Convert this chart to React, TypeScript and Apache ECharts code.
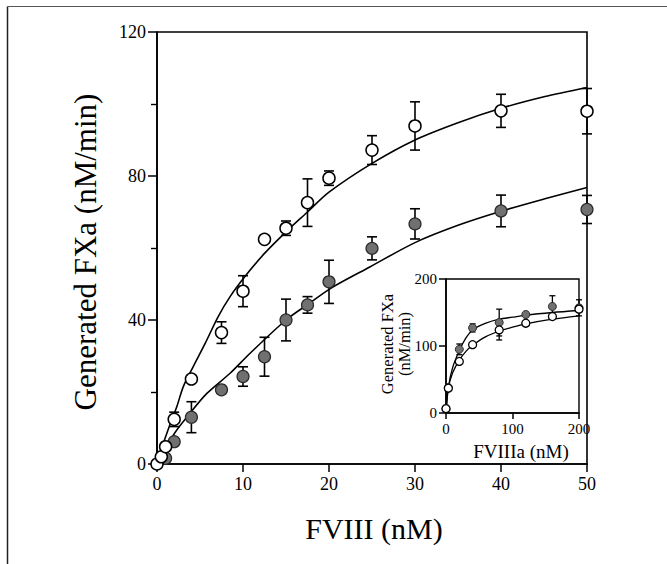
import React, { useEffect, useRef } from "react";
import * as echarts from "echarts";

// ---- Main plot data (FVIII, nM) ----
const openX = [0, 0.5, 1, 2, 4, 7.5, 10, 12.5, 15, 17.5, 20, 25, 30, 40, 50];
const openY = [0, 2, 4.8, 12.4, 23.6, 36.5, 48, 62.4, 65.5, 72.6, 79.4, 87.2, 93.9, 98.1, 98];
const openErr = [0, 0, 0, 2, 0, 3, 4.3, 0, 2, 6.6, 2, 4, 6.7, 4.6, 6.3];

const filledX = [1, 2, 4, 7.5, 10, 12.5, 15, 17.5, 20, 25, 30, 40, 50];
const filledY = [1.6, 6.2, 13, 20.6, 24.3, 29.8, 40, 44.2, 50.6, 59.9, 66.7, 70.3, 70.7];
const filledErr = [0, 0, 4.3, 0, 2.7, 5.4, 5.8, 2.3, 6, 3.2, 4.2, 4.4, 3.9];

const openCurveX = [0, 0.35, 0.93, 1.7, 2.3, 3.06, 4.2, 5.6, 7.1, 8.5, 10.2, 12.5, 15, 17.5, 20, 25, 30, 35, 40, 45, 50];
const openCurveY = [0, 3, 7.1, 12.2, 15.9, 21.5, 27, 33.5, 40.9, 46.5, 52, 58.5, 64.5, 70, 75.5, 83.5, 90, 94.8, 98.8, 102, 104.6];

const filledCurveX = [0, 0.93, 1.9, 3.84, 5.8, 8.5, 10.8, 15, 17.7, 20.2, 24.8, 30, 35, 40, 45, 50];
const filledCurveY = [0, 2, 8, 14.1, 19.6, 25.2, 30.7, 40, 44.6, 48.8, 54.8, 61.5, 66.3, 70.2, 73.6, 76.8];

// ---- Inset data (FVIIIa, nM) ----
const insetOpenX = [0, 3.5, 20, 40, 80, 120, 160, 200];
const insetOpenY = [6.5, 37, 77, 102, 124, 134, 144, 155];
const insetOpenErr = [0, 0, 0, 0, 15, 0, 0, 0];

const insetFilledX = [0, 3.5, 20, 40, 80, 120, 160, 200];
const insetFilledY = [6, 38, 95, 127, 135, 147, 159, 157];
const insetFilledErr = [0, 0, 8, 6, 20, 0, 16, 12];

const insetOpenCurveX = [0, 3.5, 10, 20, 30, 40, 60, 80, 100, 120, 160, 200];
const insetOpenCurveY = [0, 37, 60, 79, 92, 101, 114, 122, 128, 133, 140, 145];
const insetFilledCurveX = [0, 3.5, 10, 20, 30, 40, 60, 80, 100, 120, 160, 200];
const insetFilledCurveY = [0, 38, 68, 93, 112, 124, 134, 140, 143, 146, 150, 153];

const FONT = "'Liberation Serif', 'Times New Roman', serif";

const zip = (xs: number[], ys: number[]) => xs.map((x, i) => [x, ys[i]]);

function errorSeries(
  xs: number[],
  ys: number[],
  errs: number[],
  axisIndex: number,
  cap: number,
  lw: number,
  z: number
) {
  const data = xs
    .map((x, i) => [x, ys[i] - errs[i], ys[i] + errs[i]])
    .filter((_, i) => errs[i] > 0);
  return {
    type: "custom",
    xAxisIndex: axisIndex,
    yAxisIndex: axisIndex,
    data,
    z,
    silent: true,
    encode: { x: 0, y: [1, 2] },
    renderItem: (params: any, api: any) => {
      const x = api.value(0);
      const p1 = api.coord([x, api.value(1)]);
      const p2 = api.coord([x, api.value(2)]);
      const st = { stroke: "#000", lineWidth: lw };
      return {
        type: "group",
        children: [
          { type: "line", shape: { x1: p1[0], y1: p1[1], x2: p2[0], y2: p2[1] }, style: st },
          { type: "line", shape: { x1: p1[0] - cap, y1: p1[1], x2: p1[0] + cap, y2: p1[1] }, style: st },
          { type: "line", shape: { x1: p2[0] - cap, y1: p2[1], x2: p2[0] + cap, y2: p2[1] }, style: st },
        ],
      };
    },
  };
}

function axisCommon(fontSize: number, tickLen: number, margin: number) {
  return {
    type: "value",
    axisLine: { show: true, onZero: false, lineStyle: { color: "#000", width: 1.6 } },
    axisTick: { show: true, inside: false, length: tickLen, lineStyle: { color: "#000", width: 1.5 } },
    axisLabel: {
      show: true,
      color: "#000",
      fontFamily: FONT,
      fontSize,
      margin,
      showMinLabel: true,
      showMaxLabel: true,
      hideOverlap: false,
    },
    splitLine: { show: false },
  };
}

export default function App() {
  const ref = useRef<HTMLDivElement>(null);

  useEffect(() => {
    if (!ref.current) return;
    const chart = echarts.init(ref.current, undefined, { renderer: "svg" });

    const option: any = {
      animation: false,
      backgroundColor: "#fff",
      grid: [
        {
          left: 157, top: 32, width: 430, height: 432,
          show: true, borderColor: "#000", borderWidth: 1.6, backgroundColor: "transparent",
          outerBoundsMode: "none", containLabel: false,
        },
        {
          left: 446, top: 279, width: 133, height: 134,
          show: true, borderColor: "#000", borderWidth: 1.4, backgroundColor: "#fff",
          outerBoundsMode: "none", containLabel: false, z: 5,
        },
      ],
      xAxis: [
        { ...axisCommon(18, 8, 11), gridIndex: 0, min: 0, max: 50, interval: 10 },
        { ...axisCommon(15, 6, 8), gridIndex: 1, min: 0, max: 200, interval: 100, z: 6 },
      ],
      yAxis: [
        {
          ...axisCommon(18, 9, 11), gridIndex: 0, min: 0, max: 120, interval: 40,
          minorTick: { show: true, splitNumber: 2, length: 6, lineStyle: { color: "#000", width: 1.4 } },
        },
        { ...axisCommon(15, 7, 9), gridIndex: 1, min: 0, max: 200, interval: 100, z: 6 },
      ],
      series: [
        // main curves
        {
          type: "line", xAxisIndex: 0, yAxisIndex: 0, data: zip(openCurveX, openCurveY),
          showSymbol: false, smooth: 0.3, lineStyle: { color: "#000", width: 1.6 }, z: 1, silent: true,
        },
        {
          type: "line", xAxisIndex: 0, yAxisIndex: 0, data: zip(filledCurveX, filledCurveY),
          showSymbol: false, smooth: 0.3, lineStyle: { color: "#000", width: 1.6 }, z: 1, silent: true,
        },
        errorSeries(filledX, filledY, filledErr, 0, 5, 1.6, 2),
        errorSeries(openX, openY, openErr, 0, 5, 1.6, 2),
        {
          type: "scatter", xAxisIndex: 0, yAxisIndex: 0, data: zip(filledX, filledY),
          symbol: "circle", symbolSize: 12,
          itemStyle: { color: "#707070", borderColor: "#2a2a2a", borderWidth: 1.2, opacity: 1 },
          z: 3, silent: true,
        },
        {
          type: "scatter", xAxisIndex: 0, yAxisIndex: 0, data: zip(openX, openY),
          symbol: "circle", symbolSize: 12,
          itemStyle: { color: "#fff", borderColor: "#000", borderWidth: 1.5, opacity: 1 },
          z: 4, silent: true,
        },
        // inset
        {
          type: "line", xAxisIndex: 1, yAxisIndex: 1, data: zip(insetOpenCurveX, insetOpenCurveY),
          showSymbol: false, smooth: 0.3, lineStyle: { color: "#000", width: 1.3 }, z: 7, silent: true,
        },
        {
          type: "line", xAxisIndex: 1, yAxisIndex: 1, data: zip(insetFilledCurveX, insetFilledCurveY),
          showSymbol: false, smooth: 0.3, lineStyle: { color: "#000", width: 1.3 }, z: 7, silent: true,
        },
        errorSeries(insetFilledX, insetFilledY, insetFilledErr, 1, 3, 1.3, 8),
        errorSeries(insetOpenX, insetOpenY, insetOpenErr, 1, 3, 1.3, 8),
        {
          type: "scatter", xAxisIndex: 1, yAxisIndex: 1, data: zip(insetFilledX, insetFilledY),
          symbol: "circle", symbolSize: 8,
          itemStyle: { color: "#707070", borderColor: "#2a2a2a", borderWidth: 1, opacity: 1 },
          z: 9, silent: true,
        },
        {
          type: "scatter", xAxisIndex: 1, yAxisIndex: 1, data: zip(insetOpenX, insetOpenY),
          symbol: "circle", symbolSize: 8,
          itemStyle: { color: "#fff", borderColor: "#000", borderWidth: 1.3, opacity: 1 },
          z: 10, silent: true,
        },
      ],
      graphic: [
        { type: "line", shape: { x1: 7.5, y1: 6.5, x2: 7.5, y2: 564 }, style: { stroke: "#222", lineWidth: 1.5 }, silent: true },
        { type: "line", shape: { x1: 7.5, y1: 6.5, x2: 667, y2: 6.5 }, style: { stroke: "#555", lineWidth: 1.2 }, silent: true },
        {
          type: "text", x: 85, y: 252, rotation: Math.PI / 2,
          style: { text: "Generated FXa (nM/min)", font: `31px ${FONT}`, fill: "#000", align: "center", verticalAlign: "middle" },
          silent: true,
        },
        {
          type: "text", x: 374, y: 528,
          style: { text: "FVIII (nM)", font: `30px ${FONT}`, fill: "#000", align: "center", verticalAlign: "middle" },
          silent: true,
        },
        {
          type: "text", x: 387, y: 344, rotation: Math.PI / 2, z: 20,
          style: { text: "Generated FXa", font: `16.5px ${FONT}`, fill: "#000", align: "center", verticalAlign: "middle" },
          silent: true,
        },
        {
          type: "text", x: 404, y: 344, rotation: Math.PI / 2, z: 20,
          style: { text: "(nM/min)", font: `16.5px ${FONT}`, fill: "#000", align: "center", verticalAlign: "middle" },
          silent: true,
        },
        {
          type: "text", x: 521, y: 451, z: 20,
          style: { text: "FVIIIa (nM)", font: `19px ${FONT}`, fill: "#000", align: "center", verticalAlign: "middle" },
          silent: true,
        },
      ],
    };

    chart.setOption(option);
    return () => chart.dispose();
  }, []);

  return (
    <div
      ref={ref}
      style={{ position: "absolute", left: 0, top: 0, width: 667, height: 564, background: "#fff" }}
    />
  );
}
